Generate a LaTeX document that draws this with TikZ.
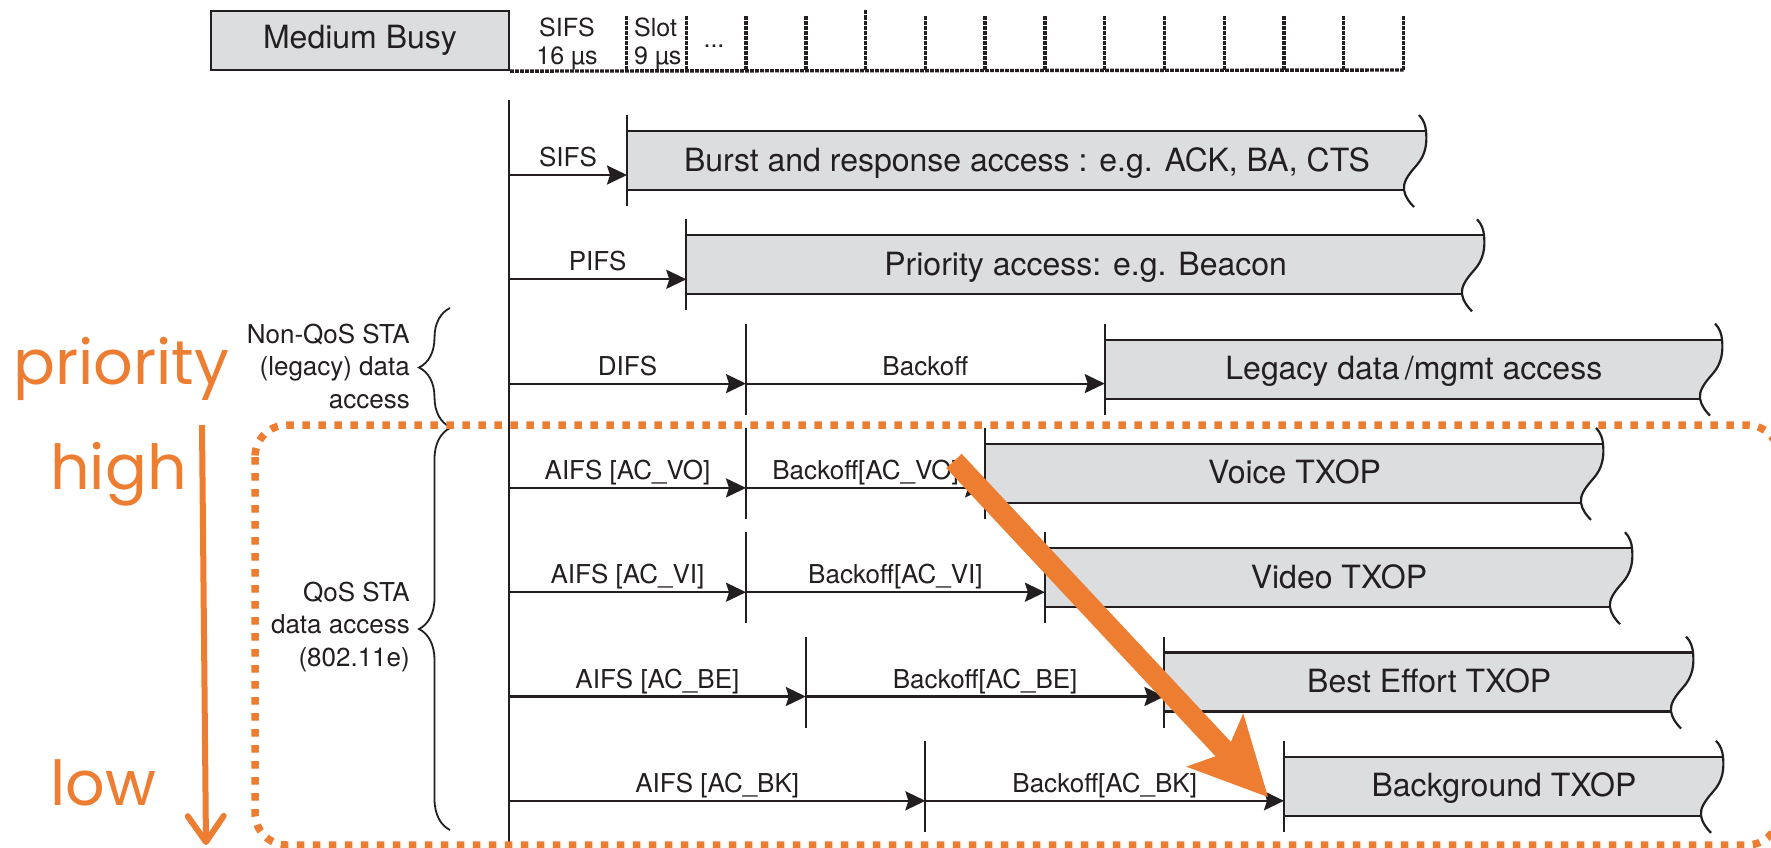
\documentclass[tikz,border=0pt]{standalone}
\usepackage{fontspec}
\setmainfont{TeX Gyre Heros}
\newfontfamily\prioFont{Poppins}
\usetikzlibrary{arrows.meta,decorations.pathreplacing}

\definecolor{ink}{RGB}{35,31,32}
\definecolor{boxgray}{RGB}{220,221,223}
\definecolor{prioorange}{RGB}{237,125,49}

% access window: #1 node name, #2 left x, #3 right x, #4 top y, #5 text
\newcommand\accesswindow[5]{%
  \fill[boxgray] (#2,#4) -- ({#3-1},#4)
    .. controls ({#3+0.2},{#4+12}) and ({#3-1},{#4+24}) .. ({#3-11},{#4+35})
    .. controls ({#3-20},{#4+45}) and ({#3-24},{#4+52}) .. ({#3-23},{#4+59})
    -- (#2,{#4+59}) -- cycle;
  \draw[boxline] (#2,#4) -- ({#3-1},#4);
  \draw[boxline] (#2,{#4+59}) -- ({#3-23},{#4+59});
  \draw[boxline] ({#3-8},{#4-16})
    .. controls ({#3-3},{#4-11}) and ({#3-1.5},{#4-5}) .. ({#3-1},#4)
    .. controls ({#3+0.2},{#4+12}) and ({#3-1},{#4+24}) .. ({#3-11},{#4+35})
    .. controls ({#3-20},{#4+45}) and ({#3-24},{#4+52}) .. ({#3-23},{#4+59})
    .. controls ({#3-22},{#4+66}) and ({#3-17},{#4+72}) .. ({#3-13},{#4+76});
  \node[wintext] (#1) at ({(#2+#3)/2},{#4+40}) {#5};
}
% vertical boundary mark of a row with top y #2
\newcommand\windowtick[2]{\draw[tickline] (#1,{#2-16}) -- (#1,{#2+75});}

\begin{document}
\begin{tikzpicture}[x=1pt,y=-1pt,
  boxline/.style={ink, line width=2.2pt},
  tickline/.style={ink, line width=2pt},
  axisline/.style={ink, line width=2.8pt},
  slotline/.style={ink, line width=3.4pt, dash pattern=on 3.8pt off 1.2pt},
  durarrow/.style={ink, line width=2.2pt, -{Stealth[length=20pt, width=19pt, inset=3pt]}},
  durlabel/.style={midway, anchor=base, yshift=8.5pt, inner sep=0pt, text=ink, font=\fontsize{26}{30}\selectfont},
  wintext/.style={anchor=base, inner sep=0pt, text=ink, font=\fontsize{32}{38}\selectfont},
  toptext/.style={inner sep=0pt, text=ink, font=\fontsize{25}{30}\selectfont},
  sidetext/.style={anchor=east, align=right, inner sep=0pt, text=ink, font=\fontsize{26}{32.5}\selectfont},
  bracestyle/.style={ink, line width=1.8pt, decorate, decoration={brace, amplitude=31pt}},
  priotext/.style={anchor=base west, inner sep=0pt, text=prioorange, font=\prioFont\fontsize{62}{68}\selectfont},
]
\useasboundingbox (0,0) rectangle (1771,847);
\clip (0,0) rectangle (1771,847);
\fill[white] (0,0) rectangle (1771,847);

% ---- slot ruler ----
\node[draw=ink, line width=2.2pt, fill=boxgray, minimum width=298pt, minimum height=59pt,
      inner sep=0pt, text=ink, font=\fontsize{32}{38}\selectfont] (busy) at (360,40.5) {Medium Busy};
\coordinate (rulerEnd) at (1403.5,70);
\draw[slotline] (busy.south east) -- (rulerEnd);
\foreach \k in {0,...,13} {\draw[slotline] ({626.5+59.77*\k},16) -- ({626.5+59.77*\k},70);}
\draw[slotline] ({626.5+59.77*4},10) -- ({626.5+59.77*4},16);
\node[toptext, anchor=base] (sifsTop) at (567,36) {SIFS};
\node[toptext, anchor=base] (sifsTime) at (567,64) {16 µs};
\node[toptext, anchor=base west] (slotTop) at (634,36) {Slot};
\node[toptext, anchor=base west] (slotTime) at (634,64) {9 µs};
\node[toptext, anchor=base] (moreSlots) at (714,47) {...};

% ---- access windows ----
\accesswindow{burst}{627}{1427}{131}{Burst and response access : e.g. ACK, BA, CTS}
\accesswindow{beacon}{686.3}{1485}{235.3}{Priority access: e.g. Beacon}
\accesswindow{legacy}{1104.7}{1723}{339.6}{Legacy data\,/mgmt access}
\accesswindow{voice}{985.1}{1604}{443.9}{Voice TXOP}
\accesswindow{video}{1044.9}{1633}{548.2}{Video TXOP}
\accesswindow{besteffort}{1164.4}{1694}{652.5}{Best Effort TXOP}
\accesswindow{background}{1284}{1724}{756.8}{Background TXOP}

\windowtick{627}{131}
\windowtick{686.3}{235.3}
\windowtick{746}{339.6}    \windowtick{1104.7}{339.6}
\windowtick{746}{443.9}    \windowtick{985.1}{443.9}
\windowtick{746}{548.2}    \windowtick{1044.9}{548.2}
\windowtick{805.8}{652.5}  \windowtick{1164.4}{652.5}
\windowtick{925.4}{756.8}  \windowtick{1284}{756.8}

% ---- time axis ----
\coordinate (axisTop) at (509,100);
\coordinate (axisBottom) at (509,847);
\draw[axisline] (axisTop) -- (axisBottom);

% ---- interframe spaces and backoffs ----
\coordinate (r1a) at (509,175);    \coordinate (r1b) at (627,175);
\coordinate (r2a) at (509,279.3);  \coordinate (r2b) at (686.3,279.3);
\coordinate (r3a) at (509,383.6);  \coordinate (r3m) at (746,383.6);   \coordinate (r3b) at (1104.7,383.6);
\coordinate (r4a) at (509,487.9);  \coordinate (r4m) at (746,487.9);   \coordinate (r4b) at (985.1,487.9);
\coordinate (r5a) at (509,592.2);  \coordinate (r5m) at (746,592.2);   \coordinate (r5b) at (1044.9,592.2);
\coordinate (r6a) at (509,696.5);  \coordinate (r6m) at (805.8,696.5); \coordinate (r6b) at (1164.4,696.5);
\coordinate (r7a) at (509,800.8);  \coordinate (r7m) at (925.4,800.8); \coordinate (r7b) at (1284,800.8);

\draw[durarrow] (r1a) -- (r1b) node[durlabel] (sifsL) {SIFS};
\draw[durarrow] (r2a) -- (r2b) node[durlabel] (pifsL) {PIFS};
\draw[durarrow] (r3a) -- (r3m) node[durlabel] (difsL) {DIFS};
\draw[durarrow] (r3m) -- (r3b) node[durlabel] (boL) {Backoff};
\draw[durarrow] (r4a) -- (r4m) node[durlabel] (aifsVO) {AIFS [AC\_VO]};
\draw[durarrow] (r4m) -- (r4b) node[durlabel] (boVO) {Backoff[AC\_VO]};
\draw[durarrow] (r5a) -- (r5m) node[durlabel] (aifsVI) {AIFS [AC\_VI]};
\draw[durarrow] (r5m) -- (r5b) node[durlabel] (boVI) {Backoff[AC\_VI]};
\draw[durarrow] (r6a) -- (r6m) node[durlabel] (aifsBE) {AIFS [AC\_BE]};
\draw[durarrow] (r6m) -- (r6b) node[durlabel] (boBE) {Backoff[AC\_BE]};
\draw[durarrow] (r7a) -- (r7m) node[durlabel] (aifsBK) {AIFS [AC\_BK]};
\draw[durarrow] (r7m) -- (r7b) node[durlabel] (boBK) {Backoff[AC\_BK]};

% ---- station groups ----
\draw[bracestyle] (450,427) -- (450,308);
\draw[bracestyle] (450,830) -- (450,428);
\node[sidetext] (legacyNote) at (410,366) {Non-QoS STA\\(legacy) data\\access};
\node[sidetext] (qosNote) at (410,627) {QoS STA\\data access\\(802.11e)};

% ---- priority overlay ----
\draw[prioorange, line width=7.5pt, dash pattern=on 7.5pt off 8.5pt, rounded corners=32pt]
  (255,425) rectangle (1779,845);
\coordinate (shiftStart) at (954,461);
\coordinate (shiftEnd) at (1268,797);
\draw[prioorange, line width=21pt, -{Stealth[length=78pt, width=78pt, inset=17pt, line width=0pt]}]
  (shiftStart) -- (shiftEnd);
\coordinate (rankTop) at (202,425);
\coordinate (rankBottom) at (206,845);
\draw[prioorange, line width=6pt, -{Straight Barb[length=26pt, width=36pt, round]}] (rankTop) -- (rankBottom);
\node[priotext] (prioWord) at (13,384) {priority};
\node[priotext] (highWord) at (50,489) {high};
\node[priotext] (lowWord) at (50,805) {low};
\end{tikzpicture}
\end{document}
